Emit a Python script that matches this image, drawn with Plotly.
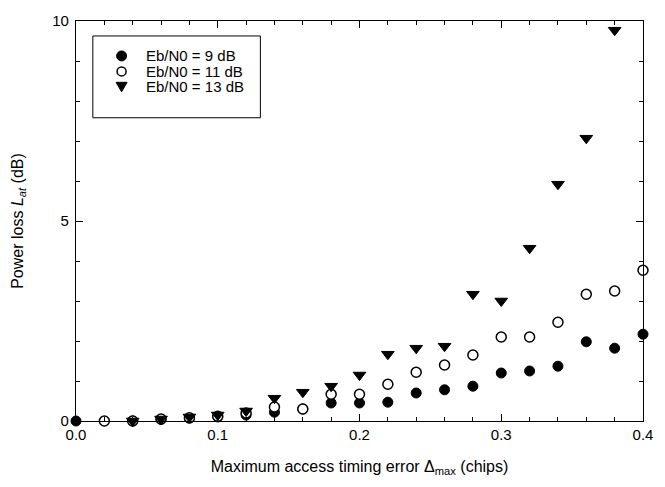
import plotly.graph_objects as go

# Maximum access timing error (chips)
delta_max = [0.00, 0.02, 0.04, 0.06, 0.08, 0.10, 0.12, 0.14, 0.16, 0.18, 0.20,
             0.22, 0.24, 0.26, 0.28, 0.30, 0.32, 0.34, 0.36, 0.38, 0.40]

# Power loss (dB) for each Eb/N0
loss_9db = [0.00, None, 0.00, 0.04, 0.07, 0.10, 0.15, 0.22, 0.30, 0.45, 0.45,
            0.47, 0.70, 0.78, 0.87, 1.20, 1.25, 1.37, 1.98, 1.82, 2.17]
loss_11db = [None, 0.00, 0.00, 0.05, 0.08, 0.12, 0.20, 0.35, 0.30, 0.67, 0.67,
             0.92, 1.22, 1.40, 1.65, 2.10, 2.10, 2.47, 3.17, 3.25, 3.77]
loss_13db = [None, None, 0.00, 0.05, 0.10, 0.15, 0.25, 0.57, 0.72, 0.87, 1.15,
             1.67, 1.82, 1.87, 3.17, 3.00, 4.32, 5.92, 7.07, 9.77, None]

series_names = ["Eb/N0 = 9 dB", "Eb/N0 = 11 dB", "Eb/N0 = 13 dB"]

x_ticks = [0.0, 0.1, 0.2, 0.3, 0.4]
x_tick_text = ["0.0", "0.1", "0.2", "0.3", "0.4"]
y_ticks = [0, 5, 10]
y_tick_text = ["0", "5", "10"]

FONT = "Liberation Sans, Arial, Helvetica, sans-serif"

fig = go.Figure()

fig.add_trace(go.Scatter(
    x=delta_max, y=loss_9db, mode="markers", name=series_names[0],
    marker=dict(symbol="circle", size=10, color="black",
                line=dict(color="black", width=1)),
))
fig.add_trace(go.Scatter(
    x=delta_max, y=loss_11db, mode="markers", name=series_names[1],
    marker=dict(symbol="circle", size=10, color="white",
                line=dict(color="black", width=1.5)),
))
fig.add_trace(go.Scatter(
    x=delta_max, y=loss_13db, mode="markers", name=series_names[2],
    marker=dict(symbol="triangle-down", size=11, color="black",
                line=dict(color="black", width=1)),
))

# compact legend: framed box with marker glyphs and labels (paper coordinates)
fig.add_shape(type="rect", xref="paper", yref="paper",
              x0=0.0297, x1=0.3252, y0=0.7581, y1=0.9626,
              line=dict(color="black", width=1), fillcolor="white", layer="below")

legend_marker_x = 0.0804
legend_text_x = 0.1206
legend_rows_y = [0.9127, 0.8740, 0.8367]

# filled circle
fig.add_shape(type="circle", xref="paper", yref="paper",
              xsizemode="pixel", ysizemode="pixel",
              xanchor=legend_marker_x, yanchor=legend_rows_y[0],
              x0=-5, x1=5, y0=-5, y1=5,
              line=dict(color="black", width=1), fillcolor="black")
# open circle
fig.add_shape(type="circle", xref="paper", yref="paper",
              xsizemode="pixel", ysizemode="pixel",
              xanchor=legend_marker_x, yanchor=legend_rows_y[1],
              x0=-4.5, x1=4.5, y0=-4.5, y1=4.5,
              line=dict(color="black", width=1.5), fillcolor="white")
# down-pointing triangle
fig.add_shape(type="path", xref="paper", yref="paper",
              xsizemode="pixel", ysizemode="pixel",
              xanchor=legend_marker_x, yanchor=legend_rows_y[2],
              path="M -5.5,4 L 5.5,4 L 0,-5.5 Z",
              line=dict(color="black", width=1), fillcolor="black")

for name, ry in zip(series_names, legend_rows_y):
    fig.add_annotation(x=legend_text_x, y=ry, xref="paper", yref="paper",
                       text=name, showarrow=False, xanchor="left", yanchor="middle",
                       height=15, valign="middle",
                       font=dict(family=FONT, size=15, color="black"))

axis_common = dict(
    showline=True, linecolor="black", linewidth=1.2, mirror="ticks",
    ticks="inside", tickcolor="black", showgrid=False, zeroline=False,
    tickfont=dict(family=FONT, size=15, color="black"),
)

fig.update_layout(
    width=665, height=487,
    margin=dict(l=76, r=17, t=20, b=66),
    paper_bgcolor="white", plot_bgcolor="white",
    font=dict(family=FONT, color="black"),
    showlegend=False,
    xaxis=dict(
        range=[0, 0.4], tickvals=x_ticks, ticktext=x_tick_text, ticklen=7,
        minor=dict(dtick=0.02, tick0=0, ticks="inside", ticklen=4, tickcolor="black"),
        title=dict(text="Maximum access timing error Δ<sub>max</sub> (chips)",
                   font=dict(family=FONT, size=16, color="black"), standoff=18),
        **axis_common,
    ),
    yaxis=dict(
        range=[0, 10], tickvals=y_ticks, ticktext=y_tick_text, ticklen=7,
        ticklabelstandoff=3,
        minor=dict(dtick=1, tick0=0, ticks="inside", ticklen=4, tickcolor="black"),
        title=dict(text="Power loss <i>L</i><sub><i>at</i></sub> (dB)",
                   font=dict(family=FONT, size=16, color="black"), standoff=24),
        **axis_common,
    ),
)

fig.update_traces(cliponaxis=False)

fig.write_html("out.html")
